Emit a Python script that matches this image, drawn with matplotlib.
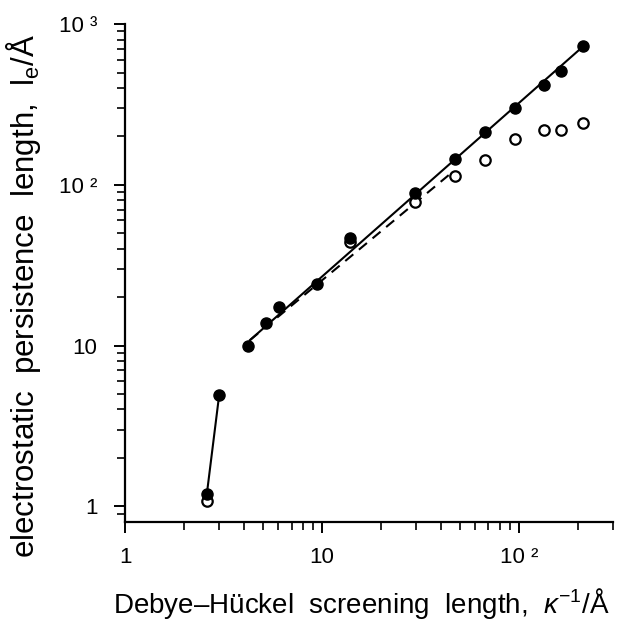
import matplotlib
matplotlib.use("Agg")
import matplotlib.pyplot as plt
from matplotlib.ticker import FixedLocator, NullFormatter

plt.rcParams['font.family'] = ['Liberation Sans', 'DejaVu Sans']
plt.rcParams['mathtext.fontset'] = 'custom'
plt.rcParams['mathtext.rm'] = 'Liberation Sans'
plt.rcParams['mathtext.it'] = 'Liberation Sans:italic'

# filled circles
kappa_full = [2.6, 3.0, 4.2, 5.2, 6.05, 9.4, 13.9, 29.7, 47.3, 67.2, 95.5, 134, 163, 211]
lp_full = [1.2, 4.9, 10.0, 13.8, 17.4, 24.2, 46.7, 88.8, 144, 212, 299, 416, 508, 727]

# open circles
kappa_open = [2.6, 13.9, 29.7, 47.3, 67.2, 95.5, 134, 163, 211]
lp_open = [1.08, 44, 78, 113, 142, 192, 219, 219, 242]

# lines
seg_x = [2.6, 3.0]
seg_y = [1.2, 4.9]
fit_x = [4.3, 210]
fit_y = [10.8, 720]
dash_x = [4.3, 44]
dash_y = [10.8, 115]

x_ticks = [1, 10, 100]
x_ticklabels = ['1', '10', '10 ²']
y_ticks = [1, 10, 100, 1000]
y_ticklabels = ['1', '10', '10 ²', '10 ³']

fig = plt.figure(figsize=(6.26, 6.19), dpi=100)
ax = fig.add_axes([0.2, 0.157, 0.779, 0.804])

ax.plot(seg_x, seg_y, color='black', lw=1.5)
ax.plot(fit_x, fit_y, color='black', lw=1.5)
ax.plot(dash_x, dash_y, color='black', lw=1.5, ls=(0, (5, 3.5)))
ax.plot(kappa_open, lp_open, 'o', ms=7.5, mfc='white', mec='black', mew=1.6, ls='none')
ax.plot(kappa_full, lp_full, 'o', ms=8, color='black', ls='none')

ax.set_xscale('log')
ax.set_yscale('log')
ax.set_xlim(1, 300)
ax.set_ylim(0.8, 1000)

for s in ['top', 'right']:
    ax.spines[s].set_visible(False)
for s in ['left', 'bottom']:
    ax.spines[s].set_linewidth(1.6)

ax.tick_params(which='major', direction='out', length=8, width=1.4, labelsize=16)
ax.tick_params(which='minor', direction='out', length=6, width=1.2)
ax.tick_params(axis='x', which='major', pad=10)
ax.tick_params(axis='y', which='major', pad=12)

ax.xaxis.set_major_locator(FixedLocator(x_ticks))
ax.set_xticklabels(x_ticklabels, fontsize=16)
ax.xaxis.set_minor_locator(FixedLocator([2, 3, 4, 5, 6, 7, 8, 9, 20, 30, 40, 50, 60, 70, 80, 90, 200, 300]))
ax.xaxis.set_minor_formatter(NullFormatter())

ax.yaxis.set_major_locator(FixedLocator(y_ticks))
ax.set_yticklabels(y_ticklabels, fontsize=16)
ax.yaxis.set_minor_locator(FixedLocator([0.9, 2, 3, 4, 5, 6, 7, 8, 9, 20, 30, 40, 50, 60, 70, 80, 90,
                                         200, 300, 400, 500, 600, 700, 800, 900]))
ax.yaxis.set_minor_formatter(NullFormatter())

ax.set_xlabel('Debye\u2013Hückel  screening  length,  $\\mathit{\\kappa}^{-1}$/Å', fontsize=20)
ax.xaxis.set_label_coords(0.484, -0.128)
ax.set_ylabel('electrostatic  persistence  length,  l$_\\mathrm{e}$/Å', fontsize=22.5)
ax.yaxis.set_label_coords(-0.168, 0.454)

fig.savefig('out.png', dpi=100)
